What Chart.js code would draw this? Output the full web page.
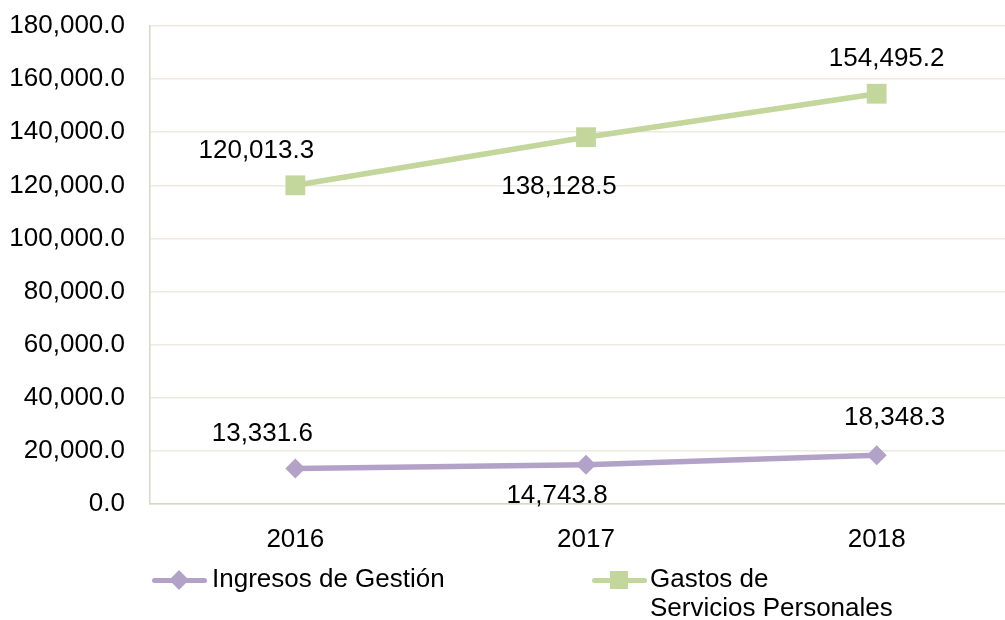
<!DOCTYPE html>
<html>
<head>
<meta charset="utf-8">
<script src="https://cdn.jsdelivr.net/npm/chart.js@4.4.1/dist/chart.umd.min.js"></script>
<style>
  html, body { margin: 0; padding: 0; width: 1005px; height: 620px; overflow: hidden; background: #fff; }
  #wrap { position: absolute; left: 0; top: 0; width: 1036px; height: 620px; }
  .leg { position: absolute; font-family: "Liberation Sans", Arial, sans-serif; font-size: 26px; line-height: 29px; color: #000; white-space: nowrap; }
  .lline { position: absolute; height: 5px; border-radius: 2.5px; }
  .lmark { position: absolute; }
</style>
</head>
<body>
<div id="wrap"><canvas id="c" width="1036" height="620"></canvas></div>

<div class="lline" style="left:152px; top:577.5px; width:55px; background:#B3A2C7;"></div>
<div class="lmark" style="left:172px; top:573px; width:14px; height:14px; background:#B3A2C7; transform:rotate(45deg);"></div>
<div class="leg" style="left:212px; top:564px;">Ingresos de Gestión</div>

<div class="lline" style="left:592px; top:577.5px; width:55px; background:#C3D69B;"></div>
<div class="lmark" style="left:610px; top:571px; width:18px; height:18px; background:#C3D69B;"></div>
<div class="leg" style="left:650px; top:564px;">Gastos de<br>Servicios Personales</div>

<script>
const categories = ["2016", "2017", "2018"];
const ingresosGestion = [13331.6, 14743.8, 18348.3];
const gastosServicios = [120013.3, 138128.5, 154495.2];
const seriesNames = ["Ingresos de Gestión", "Gastos de Servicios Personales"];
const yMin = 0, yMax = 180000, yStep = 20000;

const FONT = "'Liberation Sans', Arial, sans-serif";
const fmt = v => Number(v).toLocaleString('en-US', {minimumFractionDigits: 1, maximumFractionDigits: 1});

// label offsets (dx, dy) relative to each point, per dataset
const labelOffsets = [
  [[-33, -35], [-29, 31], [18, -37]],
  [[-39, -34], [-27, 50], [10, -35]]
];

const labelPlugin = {
  id: 'valueLabels',
  afterDatasetsDraw(chart) {
    const ctx = chart.ctx;
    ctx.save();
    ctx.font = "26px " + FONT;
    ctx.fillStyle = "#000";
    ctx.textAlign = "center";
    ctx.textBaseline = "middle";
    chart.data.datasets.forEach((ds, di) => {
      const meta = chart.getDatasetMeta(di);
      meta.data.forEach((pt, i) => {
        const off = labelOffsets[di][i];
        ctx.fillText(fmt(ds.data[i]), pt.x + off[0], pt.y + off[1]);
      });
    });
    ctx.restore();
  }
};

new Chart(document.getElementById('c'), {
  type: 'line',
  data: {
    labels: categories,
    datasets: [
      {
        label: seriesNames[0],
        data: ingresosGestion,
        borderColor: '#B3A2C7',
        backgroundColor: '#B3A2C7',
        borderWidth: 5.5,
        pointStyle: 'rectRot',
        pointRadius: 10,
        pointHoverRadius: 10,
        pointBorderWidth: 0,
        tension: 0
      },
      {
        label: seriesNames[1],
        data: gastosServicios,
        borderColor: '#C3D69B',
        backgroundColor: '#C3D69B',
        borderWidth: 5.5,
        pointStyle: 'rect',
        pointRadius: 14,
        pointHoverRadius: 14,
        pointBorderWidth: 0,
        tension: 0
      }
    ]
  },
  options: {
    responsive: false,
    devicePixelRatio: 1,
    animation: false,
    layout: { padding: { top: 26, right: 7, left: 0, bottom: 0 } },
    plugins: { legend: { display: false }, tooltip: { enabled: false } },
    scales: {
      x: {
        offset: true,
        grid: { display: false, drawTicks: false },
        border: { display: true, color: '#D6D8C6', width: 1.5 },
        ticks: { font: { family: FONT, size: 26 }, color: '#000', padding: 20 },
        afterFit(scale) { scale.height = 116; scale.paddingLeft = 0; scale.paddingRight = 0; }
      },
      y: {
        min: yMin, max: yMax,
        grid: { color: '#EDEADF', lineWidth: 1.5, drawTicks: false },
        border: { display: true, color: '#D6D8C6', width: 1.5 },
        ticks: {
          stepSize: yStep,
          font: { family: FONT, size: 26 },
          color: '#000',
          padding: 25,
          callback: v => fmt(v)
        },
        afterFit(scale) { scale.width = 150; scale.paddingTop = 0; scale.paddingBottom = 0; }
      }
    }
  },
  plugins: [labelPlugin]
});
</script>
</body>
</html>
